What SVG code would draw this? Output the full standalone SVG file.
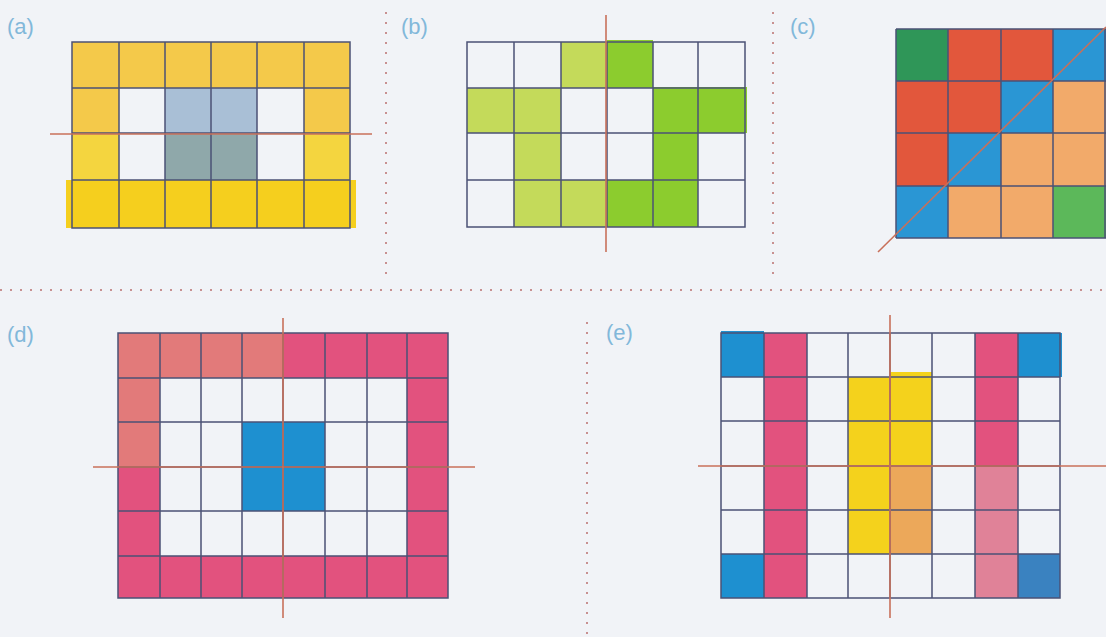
<svg xmlns="http://www.w3.org/2000/svg" width="1106" height="637" viewBox="0 0 1106 637">
<style>
.lbl{font-family:"Liberation Sans",Arial,sans-serif;font-size:22px;fill:#82b8da}
.grid{fill:none;stroke:#4b5275;stroke-width:1.5}
.axis{stroke:#c8705a;stroke-width:1.6}
.dot{stroke:#c89090;stroke-width:2;stroke-dasharray:2 8}
.y1{fill:#f4c94a}.y2{fill:#f5cf1e}
.bg1{fill:#a9bfd6}.bg2{fill:#8fa8aa}
.g1{fill:#c4da5a}.g2{fill:#8ccc2e}
.dg{fill:#2f9658}.lg{fill:#5cb85a}.rd{fill:#e2573c}.bl{fill:#2a96d4}.or{fill:#f2aa6a}
.sal{fill:#e27a7a}.pk{fill:#e2527e}.pk2{fill:#e08298}.cb{fill:#1e90d0}.cb2{fill:#3a82c0}
.ye{fill:#f4d21c}.ora{fill:#eca85a}
</style>
<rect x="0" y="0" width="1106" height="637" fill="#f1f3f7"/>
<g id="separators">
<line class="dot" x1="0" y1="290" x2="1106" y2="290"/>
<line class="dot" x1="386" y1="12" x2="386" y2="280"/>
<line class="dot" x1="773" y1="12" x2="773" y2="280"/>
<line class="dot" x1="587" y1="322" x2="587" y2="637"/>
</g>

<g id="panel-a">
<text class="lbl" x="7" y="34">(a)</text>
<rect class="y1" x="72" y="42" width="278" height="46"/>
<rect class="y1" x="72" y="88" width="47" height="46"/>
<rect class="y1" x="304" y="88" width="46" height="46"/>
<rect class="y2" x="72" y="134" width="47" height="46" opacity="0.85"/>
<rect class="y2" x="304" y="134" width="46" height="46" opacity="0.85"/>
<rect class="y2" x="66" y="180" width="290" height="48"/>
<rect class="bg1" x="165" y="88" width="92" height="46"/>
<rect class="bg2" x="165" y="134" width="92" height="46"/>
<path class="grid" d="M72 42H350V228H72Z M119 42V228 M165 42V228 M211 42V228 M257 42V228 M304 42V228 M72 88H350 M72 133H350 M72 180H350"/>
<line class="axis" x1="50" y1="134" x2="372" y2="134"/>
</g>

<g id="panel-b">
<text class="lbl" x="401" y="34">(b)</text>
<rect class="g1" x="561" y="42" width="46" height="46"/>
<rect class="g2" x="607" y="40" width="46" height="48"/>
<rect class="g1" x="467" y="88" width="94" height="45"/>
<rect class="g2" x="653" y="87" width="94" height="46"/>
<rect class="g1" x="514" y="133" width="47" height="47"/>
<rect class="g2" x="653" y="133" width="45" height="47"/>
<rect class="g1" x="514" y="180" width="93" height="47"/>
<rect class="g2" x="607" y="180" width="91" height="47"/>
<path class="grid" d="M467 42H745V227H467Z M514 42V227 M561 42V227 M607 42V227 M653 42V227 M698 42V227 M467 88H745 M467 133H745 M467 180H745"/>
<line class="axis" x1="606" y1="15" x2="606" y2="252"/>
</g>

<g id="panel-c">
<text class="lbl" x="790" y="34">(c)</text>
<rect class="dg" x="896" y="29" width="52" height="52"/>
<rect class="rd" x="948" y="29" width="105" height="52"/>
<rect class="rd" x="896" y="81" width="105" height="52"/>
<rect class="rd" x="896" y="133" width="52" height="53"/>
<rect class="bl" x="1053" y="29" width="53" height="52"/>
<rect class="bl" x="1001" y="81" width="52" height="52"/>
<rect class="bl" x="948" y="133" width="53" height="53"/>
<rect class="bl" x="896" y="186" width="52" height="52"/>
<rect class="or" x="1053" y="81" width="53" height="52"/>
<rect class="or" x="1001" y="133" width="105" height="53"/>
<rect class="or" x="948" y="186" width="105" height="52"/>
<rect class="lg" x="1053" y="186" width="53" height="52"/>
<path class="grid" d="M896 29H1106 M896 238H1106 M896 29V238 M948 29V238 M1001 29V238 M1053 29V238 M1105 29V238 M896 81H1106 M896 133H1106 M896 186H1106"/>
<line class="axis" x1="878" y1="252" x2="1106" y2="27"/>
</g>

<g id="panel-d">
<text class="lbl" x="7" y="342">(d)</text>
<rect class="sal" x="118" y="333" width="165" height="45"/>
<rect class="pk" x="283" y="333" width="165" height="45"/>
<rect class="sal" x="118" y="378" width="42" height="89"/>
<rect class="pk" x="118" y="467" width="42" height="89"/>
<rect class="pk" x="407" y="378" width="41" height="178"/>
<rect class="pk" x="118" y="556" width="330" height="42"/>
<rect class="cb" x="242" y="422" width="83" height="89"/>
<path class="grid" d="M118 333H448V598H118Z M160 333V598 M201 333V598 M242 333V598 M283 333V598 M325 333V598 M367 333V598 M407 333V598 M118 378H448 M118 422H448 M118 467H448 M118 511H448 M118 556H448"/>
<line class="axis" x1="93" y1="467" x2="475" y2="467"/>
<line class="axis" x1="283" y1="318" x2="283" y2="618"/>
</g>

<g id="panel-e">
<text class="lbl" x="606" y="340">(e)</text>
<rect class="cb" x="721" y="331" width="43" height="46"/>
<rect class="cb" x="1018" y="333" width="44" height="44"/>
<rect class="cb" x="721" y="554" width="43" height="44"/>
<rect class="cb2" x="1018" y="554" width="42" height="44"/>
<rect class="pk" x="764" y="333" width="43" height="265"/>
<rect class="pk" x="975" y="333" width="43" height="133"/>
<rect class="pk2" x="975" y="466" width="43" height="132"/>
<rect class="ye" x="848" y="377" width="42" height="177"/>
<rect class="ye" x="890" y="372" width="42" height="94"/>
<rect class="ora" x="890" y="466" width="42" height="88"/>
<path class="grid" d="M721 333H1060V598H721Z M764 333V598 M807 333V598 M848 333V598 M890 333V598 M932 333V598 M975 333V598 M1018 333V598 M721 377H1060 M721 421H1060 M721 466H1060 M721 510H1060 M721 554H1060"/>
<line class="axis" x1="698" y1="466" x2="1106" y2="466"/>
<line class="axis" x1="890" y1="315" x2="890" y2="618"/>
</g>
</svg>
